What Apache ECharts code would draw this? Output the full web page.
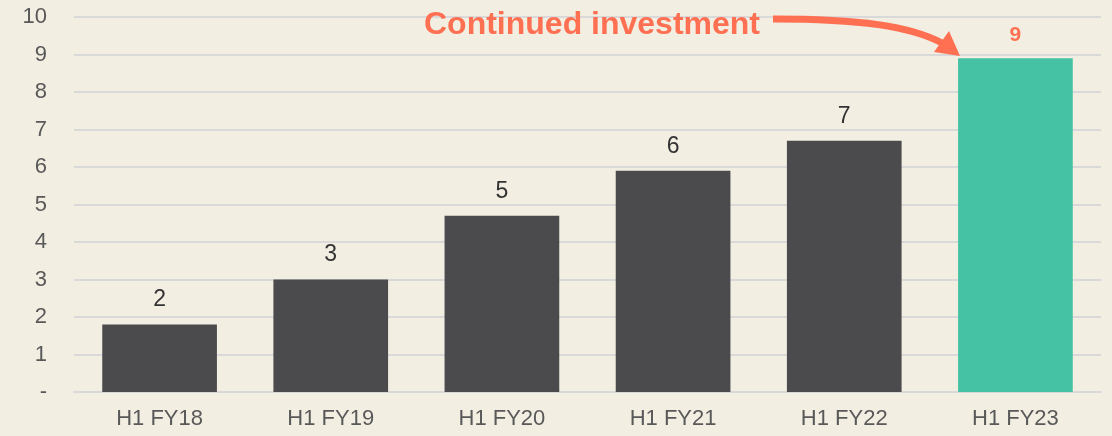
<!DOCTYPE html>
<html>
<head>
<meta charset="utf-8">
<script src="https://cdn.jsdelivr.net/npm/echarts@6/dist/echarts.min.js"></script>
<style>
  html, body { margin: 0; padding: 0; background: #f2eee2; }
  #chart { width: 1112px; height: 436px; }
</style>
</head>
<body>
<div id="chart"></div>
<script>
// data
var categories = ['H1 FY18', 'H1 FY19', 'H1 FY20', 'H1 FY21', 'H1 FY22', 'H1 FY23'];
var values = [1.8, 3.0, 4.7, 5.9, 6.7, 8.9];
var highlightIndex = 5;
var annotationText = 'Continued investment';

var grey = '#4b4b4d';
var teal = '#44c2a3';
var orange = '#ff7052';

var barData = values.map(function (v, i) {
  if (i === highlightIndex) {
    return {
      value: v,
      itemStyle: { color: teal },
      label: { color: orange, fontWeight: 'bold', fontSize: 21 }
    };
  }
  return v;
});

var chart = echarts.init(document.getElementById('chart'));
chart.setOption({
  backgroundColor: '#f2eee2',
  animation: false,
  grid: { left: 74, right: 11, top: 17, bottom: 44 },
  xAxis: {
    type: 'category',
    data: categories,
    axisLine: { show: true, lineStyle: { color: '#d9d9d9', width: 2 } },
    axisTick: { show: false },
    axisLabel: { color: '#595959', fontSize: 22, fontFamily: 'Liberation Sans', margin: 16 }
  },
  yAxis: {
    type: 'value',
    min: 0,
    max: 10,
    interval: 1,
    axisLine: { show: false },
    axisTick: { show: false },
    splitLine: { lineStyle: { color: '#d9d9d9', width: 2 } },
    axisLabel: {
      color: '#595959', fontSize: 22, fontFamily: 'Liberation Sans', margin: 27,
      formatter: function (v) { return v === 0 ? '-' : v; }
    }
  },
  series: [{
    type: 'bar',
    data: barData,
    barCategoryGap: '33%',
    itemStyle: { color: grey },
    label: {
      show: true,
      position: 'top',
      distance: 13,
      color: '#333333',
      fontSize: 23,
      fontFamily: 'Liberation Sans',
      formatter: function (p) { return Math.round(p.value); }
    }
  }],
  graphic: [
    {
      type: 'text',
      x: 424,
      y: 25,
      z: 100,
      style: {
        text: annotationText,
        fill: orange,
        font: 'bold 32px "Liberation Sans"',
        verticalAlign: 'middle'
      }
    },
    {
      type: 'bezierCurve',
      z: 100,
      shape: { x1: 773, y1: 19, cpx1: 860, cpy1: 19, cpx2: 910, cpy2: 26, x2: 942, y2: 43 },
      style: { stroke: orange, lineWidth: 7, fill: null }
    },
    {
      type: 'polygon',
      z: 100,
      shape: { points: [[960, 56], [934, 52], [949, 31]] },
      style: { fill: orange }
    }
  ]
});
</script>
</body>
</html>
